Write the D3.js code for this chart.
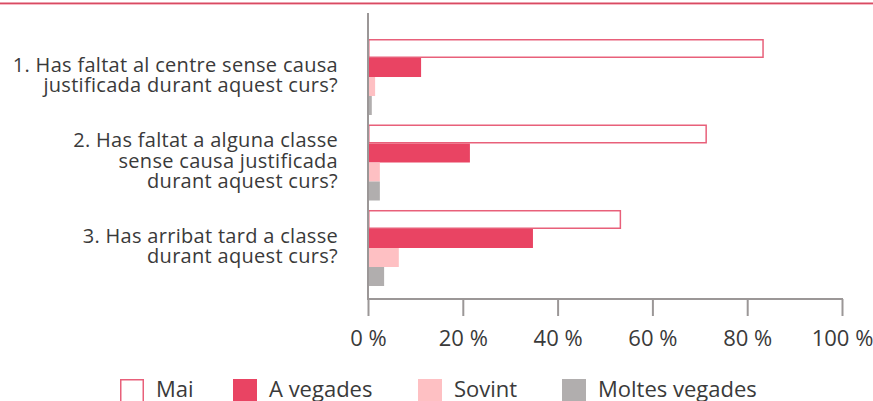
<!DOCTYPE html>
<html>
<head>
<meta charset="utf-8">
<script src="https://cdn.jsdelivr.net/npm/d3@7"></script>
<style>
  body { margin: 0; background: #fff; }
  svg { display: block; font-family: "Open Sans", sans-serif; }
</style>
</head>
<body>
<div id="chart"></div>
<script>
// dades
const questions = [
    ["1. Has faltat al centre sense causa", "justificada durant aquest curs?"],
    ["2. Has faltat a alguna classe", "sense causa justificada", "durant aquest curs?"],
    ["3. Has arribat tard a classe", "durant aquest curs?"]
];
const seriesNames = ["Mai", "A vegades", "Sovint", "Moltes vegades"];
const mai = [83.5, 71.5, 53.4];
const aVegades = [11.2, 21.5, 34.8];
const sovint = [1.5, 2.5, 6.5];
const moltesVegades = [0.8, 2.5, 3.4];
const tickValues = [0, 20, 40, 60, 80, 100];

const seriesValues = [mai, aVegades, sovint, moltesVegades];
const fills = ["#ffffff", "#e94463", "#fec0c3", "#b1aeae"];
const strokes = ["#e8607a", "none", "none", "none"];
const textColor = "#3a3a3a";

const W = 873, H = 401;
const x0 = 368, x1 = 842;
const axisY = 299;

const svg = d3.select("#chart").append("svg")
    .attr("width", W)
    .attr("height", H);

// linia superior
svg.append("rect").attr("x", 0).attr("y", 2.5).attr("width", W).attr("height", 1.5).attr("fill", "#d94b63");
svg.append("rect").attr("x", 0).attr("y", 4).attr("width", W).attr("height", 1).attr("fill", "#f6b9c3");

const x = d3.scaleLinear().domain([0, 100]).range([x0, x1]);

const y = d3.scaleBand()
    .domain(d3.range(questions.length))
    .range([39, 286])
    .paddingInner(0.111)
    .paddingOuter(0);

const ySub = d3.scaleBand()
    .domain(d3.range(seriesNames.length))
    .range([0, y.bandwidth()]);

// barres
seriesValues.forEach((vals, s) => {
    const inset = s === 0 ? 0.75 : 0;
    svg.append("g")
        .selectAll("rect")
        .data(vals)
        .join("rect")
        .attr("x", x(0) + inset)
        .attr("y", (d, i) => y(i) + ySub(s) + inset)
        .attr("width", d => x(d) - x(0) - 2 * inset)
        .attr("height", ySub.bandwidth() - 2 * inset)
        .attr("fill", fills[s])
        .attr("stroke", strokes[s])
        .attr("stroke-width", 1.5);
});

// eix
const axis = svg.append("g")
    .attr("transform", `translate(0,${axisY})`)
    .call(d3.axisBottom(x)
        .tickValues(tickValues)
        .tickSize(17)
        .tickFormat(d => d + " %"));
axis.select(".domain").remove();
axis.selectAll(".tick line").attr("stroke", "#9b9797").attr("stroke-width", 2);
axis.selectAll(".tick text")
    .attr("y", 47)
    .attr("dy", null)
    .attr("fill", textColor)
    .attr("font-size", 22)
    .attr("font-family", "'Open Sans', sans-serif");

svg.append("line")
    .attr("x1", x0 - 1).attr("x2", x1 + 1)
    .attr("y1", axisY).attr("y2", axisY)
    .attr("stroke", "#9b9797").attr("stroke-width", 2);

svg.append("line")
    .attr("x1", x0).attr("x2", x0)
    .attr("y1", 13).attr("y2", axisY)
    .attr("stroke", "#9b9797").attr("stroke-width", 2);

// etiquetes
const lineH = 20.5;
questions.forEach((lines, i) => {
    const cy = y(i) + y.bandwidth() / 2;
    const t = svg.append("text")
        .attr("text-anchor", "end")
        .attr("font-size", 20)
        .attr("letter-spacing", 0.3)
        .attr("fill", textColor);
    lines.forEach((l, k) => {
        t.append("tspan")
            .attr("x", 338)
            .attr("y", cy + 5 + (k - (lines.length - 1) / 2) * lineH)
            .text(l);
    });
});

// llegenda
const legendX = [120, 233, 418, 562];
const legend = svg.append("g");
seriesNames.forEach((name, s) => {
    const inset = s === 0 ? 0.75 : 0;
    legend.append("rect")
        .attr("x", legendX[s] + inset)
        .attr("y", 379 + inset)
        .attr("width", 24 - 2 * inset)
        .attr("height", 30)
        .attr("fill", fills[s])
        .attr("stroke", strokes[s])
        .attr("stroke-width", 1.5);
    legend.append("text")
        .attr("x", legendX[s] + 36)
        .attr("y", 397)
        .attr("font-size", 22)
        .attr("fill", textColor)
        .text(name);
});
</script>
</body>
</html>
